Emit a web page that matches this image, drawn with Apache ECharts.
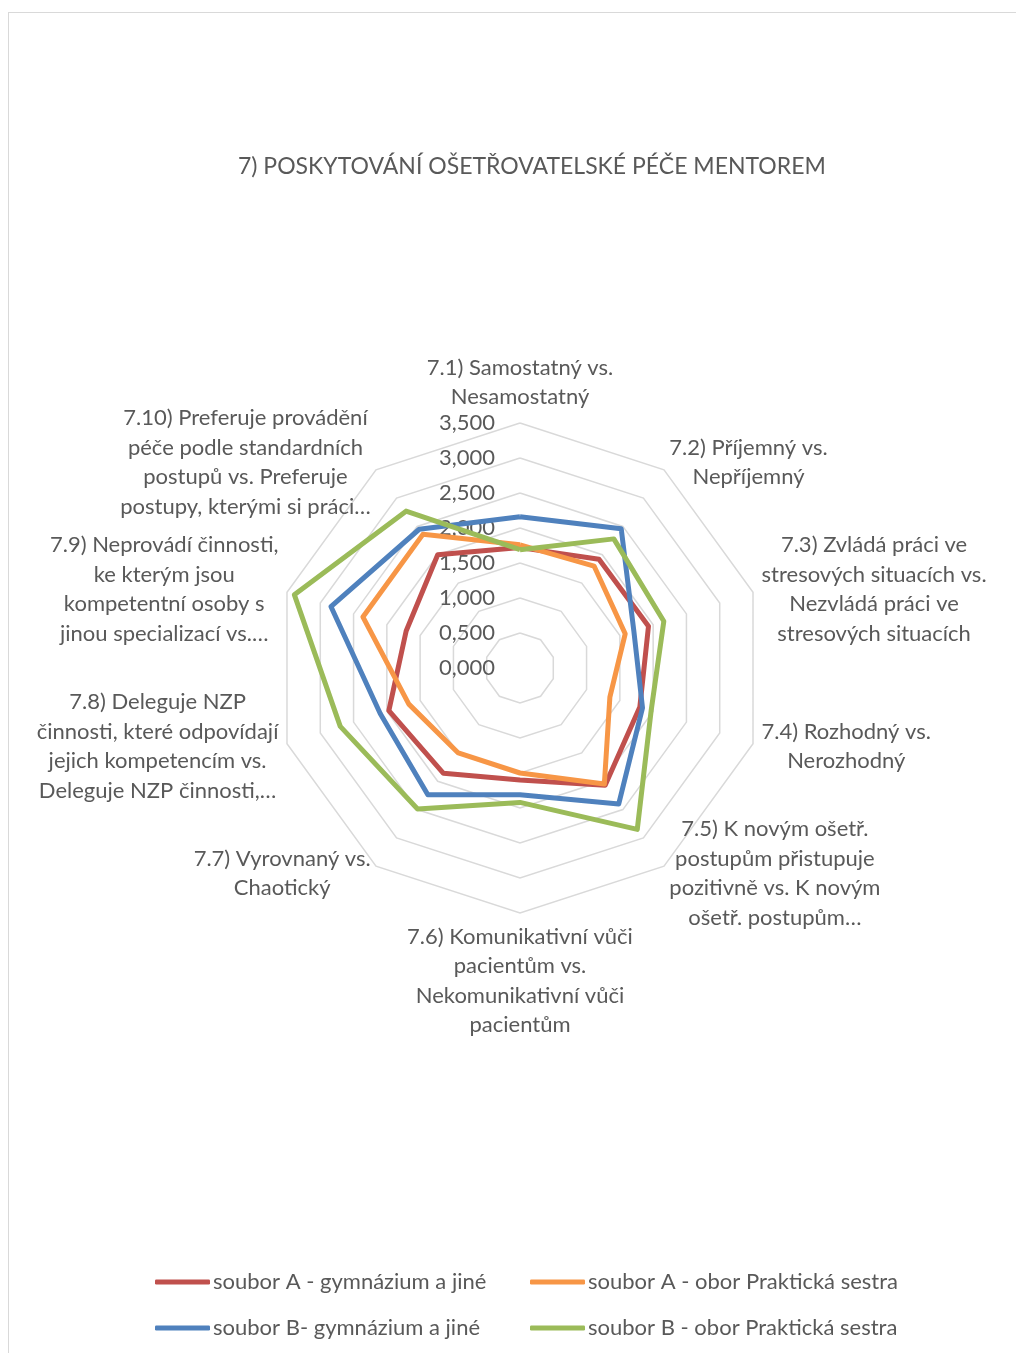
<!DOCTYPE html>
<html><head><meta charset="utf-8">
<script src="https://cdn.jsdelivr.net/npm/echarts@6/dist/echarts.min.js"></script>
<style>
html,body{margin:0;padding:0;background:#fff;overflow:hidden;width:1016px;height:1353px}
#frame{position:absolute;left:8px;top:12px;width:1100px;height:1400px;border:1.5px solid #d9d9d9;box-sizing:border-box}
#chart{position:absolute;left:0;top:0;width:1016px;height:1353px}
</style></head><body>
<div id="frame"></div><div id="chart"></div>
<script>
const titleText = '7) POSKYTOVÁNÍ OŠETŘOVATELSKÉ PÉČE MENTOREM';
const categories = [
  '7.1) Samostatný vs.\nNesamostatný',
  '7.2) Příjemný vs.\nNepříjemný',
  '7.3) Zvládá práci ve\nstresových situacích vs.\nNezvládá práci ve\nstresových situacích',
  '7.4) Rozhodný vs.\nNerozhodný',
  '7.5) K novým ošetř.\npostupům přistupuje\npozitivně vs. K novým\nošetř. postupům…',
  '7.6) Komunikativní vůči\npacientům vs.\nNekomunikativní vůči\npacientům',
  '7.7) Vyrovnaný vs.\nChaotický',
  '7.8) Deleguje NZP\nčinnosti, které odpovídají\njejich kompetencím vs.\nDeleguje NZP činnosti,…',
  '7.9) Neprovádí činnosti,\nke kterým jsou\nkompetentní osoby s\njinou specializací vs.…',
  '7.10) Preferuje provádění\npéče podle standardních\npostupů vs. Preferuje\npostupy, kterými si práci…'
];
const seriesNames = [
  'soubor A - gymnázium a jiné',
  'soubor A - obor Praktická sestra',
  'soubor B- gymnázium a jiné',
  'soubor B - obor Praktická sestra'
];
const souborA_gym = [1.72, 1.92, 1.93, 1.80, 2.07, 1.60, 1.86, 1.97, 1.71, 2.00];
const souborA_ps  = [1.76, 1.80, 1.58, 1.35, 2.05, 1.50, 1.50, 1.67, 2.36, 2.36];
const souborB_gym = [2.16, 2.46, 1.71, 1.84, 2.40, 1.81, 2.24, 2.10, 2.84, 2.45];
const souborB_ps  = [1.69, 2.28, 2.16, 1.97, 2.85, 1.92, 2.49, 2.70, 3.39, 2.77];
const axisMin = 0, axisMax = 3.5, axisStep = 0.5;
const colors = ['#C0504D', '#F79646', '#4F81BD', '#9BBB59'];
const allData = [souborA_gym, souborA_ps, souborB_gym, souborB_ps];

const FONT = 'Lato, "Open Sans", sans-serif';
const TXT = '#595959';
const FS = 22;

// ECharts radar runs counter-clockwise; reorder so categories go clockwise from the top
const n = categories.length;
const order = categories.map((_, k) => (n - k) % n);

const chart = echarts.init(document.getElementById('chart'), null, {renderer: 'canvas'});
const indicator = order.map((ci, k) => {
  const o = {name: categories[ci], min: axisMin, max: axisMax};
  if (k === 0) o.axisLabel = {show: true};
  return o;
});
const legendCommon = {
  orient: 'vertical', top: 1270, padding: 0,
  icon: 'roundRect', itemWidth: 55, itemHeight: 5, itemGap: 22,
  textStyle: {fontFamily: FONT, fontSize: FS, color: TXT, lineHeight: 24, padding: [0, 0, 0, -2]}
};
chart.setOption({
  animation: false,
  title: {
    text: titleText, left: 238, top: 155, padding: 0,
    textStyle: {fontFamily: FONT, fontSize: 23, fontWeight: 'normal', color: TXT}
  },
  legend: [
    Object.assign({data: [seriesNames[0], seriesNames[2]], left: 155}, legendCommon),
    Object.assign({data: [seriesNames[1], seriesNames[3]], left: 530}, legendCommon)
  ],
  radar: {
    center: [520, 668],
    radius: 245,
    startAngle: 90,
    shape: 'polygon',
    splitNumber: (axisMax - axisMin) / axisStep,
    indicator: indicator,
    axisName: {
      color: TXT, fontFamily: FONT, fontSize: FS, lineHeight: 29.5,
      formatter: (name) => name.split('\n').map(l => '{c|' + l + '}').join('\n'),
      rich: {c: {align: 'center', color: TXT, fontFamily: FONT, fontSize: FS, lineHeight: 29.5}}
    },
    nameGap: 9,
    axisLine: {show: false},
    axisTick: {show: false},
    axisLabel: {
      show: false, color: TXT, fontFamily: FONT, fontSize: FS, margin: 25,
      formatter: v => v.toFixed(3).replace('.', ',')
    },
    splitLine: {lineStyle: {color: '#D9D9D9', width: 1.5}},
    splitArea: {show: false}
  },
  series: seriesNames.map((nm, i) => ({
    type: 'radar',
    name: nm,
    symbol: 'none',
    lineStyle: {color: colors[i], width: 5, join: 'round'},
    itemStyle: {color: colors[i]},
    data: [{value: order.map(ci => allData[i][ci]), name: nm}]
  }))
});
</script></body></html>
